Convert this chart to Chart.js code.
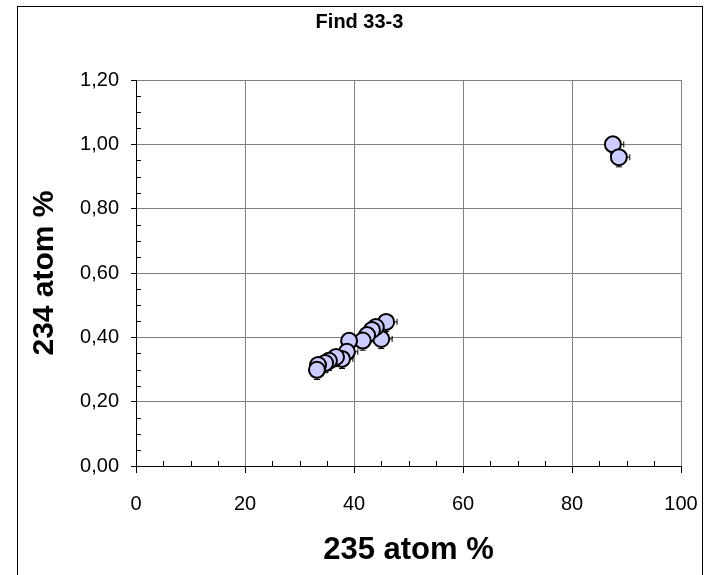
<!DOCTYPE html>
<html>
<head>
<meta charset="utf-8">
<script src="https://cdn.jsdelivr.net/npm/chart.js@4.4.0/dist/chart.umd.min.js"></script>
<style>
  body { margin: 0; background: #fff; }
  #frame { position: absolute; left: 17px; top: 6px; width: 684px; height: 620px; border: 1px solid #000; }
  #c { position: absolute; left: 0; top: 0; }
</style>
</head>
<body>
<div id="frame"></div>
<canvas id="c" width="713" height="575"></canvas>
<script>
// measured points (235 atom % vs 234 atom %)
const atom235 = [87.5, 88.6, 45.9, 45.0, 44.0, 43.3, 42.4, 41.6, 39.1, 38.7, 37.8, 36.7, 35.4, 34.7, 33.4, 33.2];
const atom234 = [1.00, 0.96, 0.448, 0.395, 0.432, 0.423, 0.407, 0.39, 0.389, 0.355, 0.333, 0.339, 0.327, 0.32, 0.314, 0.299];
const xErr = 2;
const yErr = 0.03;

const chartTitle = 'Find 33-3';
const xTitle = '235 atom %';
const yTitle = '234 atom %';

const points = atom235.map((x, i) => ({ x: x, y: atom234[i] }));

// small error bars (x plus, y minus) drawn under the markers
const errorBars = {
  id: 'errorBars',
  beforeDatasetsDraw(chart) {
    const { ctx, scales: { x, y } } = chart;
    ctx.save();
    ctx.strokeStyle = '#000';
    ctx.lineWidth = 1;
    points.forEach(p => {
      const px = x.getPixelForValue(p.x);
      const py = y.getPixelForValue(p.y);
      const ex = x.getPixelForValue(p.x + xErr);
      const ey = y.getPixelForValue(p.y - yErr);
      ctx.beginPath();
      ctx.moveTo(px, py); ctx.lineTo(ex, py);
      ctx.moveTo(ex, py - 3); ctx.lineTo(ex, py + 3);
      ctx.moveTo(px, py); ctx.lineTo(px, ey);
      ctx.moveTo(px - 3, ey); ctx.lineTo(px + 3, ey);
      ctx.stroke();
    });
    ctx.restore();
  }
};

// minor tick marks pointing into the plot
const minorTicks = {
  id: 'minorTicks',
  afterDraw(chart) {
    const { ctx, chartArea: a, scales: { x, y } } = chart;
    ctx.save();
    ctx.strokeStyle = '#000';
    ctx.lineWidth = 1;
    ctx.beginPath();
    for (let v = 5; v < 100; v += 5) {
      if (v % 20 === 0) continue;
      const px = Math.round(x.getPixelForValue(v)) + 0.5;
      ctx.moveTo(px, a.bottom); ctx.lineTo(px, a.bottom - 5);
    }
    for (let k = 1; k < 24; k++) {
      if (k % 4 === 0) continue;
      const py = Math.round(y.getPixelForValue(k * 0.05)) + 0.5;
      ctx.moveTo(a.left, py); ctx.lineTo(a.left + 5, py);
    }
    ctx.stroke();
    ctx.restore();
  }
};

Chart.defaults.font.family = 'Arial, "Liberation Sans", sans-serif';
Chart.defaults.color = '#000';

new Chart(document.getElementById('c'), {
  type: 'scatter',
  data: {
    datasets: [{
      data: points,
      pointRadius: 8,
      pointHoverRadius: 8,
      pointBackgroundColor: '#ccccff',
      pointBorderColor: '#000',
      pointBorderWidth: 2
    }]
  },
  options: {
    responsive: false,
    animation: false,
    devicePixelRatio: 1,
    layout: { padding: { left: 38, right: 32, top: 0, bottom: 0 } },
    plugins: {
      legend: { display: false },
      tooltip: { enabled: false },
      title: {
        display: true,
        text: chartTitle,
        font: { size: 20, weight: 'bold' },
        padding: { top: 10, bottom: 46 }
      }
    },
    scales: {
      x: {
        type: 'linear',
        min: 0,
        max: 100,
        ticks: { stepSize: 20, font: { size: 20 }, padding: 19, maxRotation: 0 },
        grid: { color: '#808080', tickColor: '#000', tickLength: 7 },
        border: { color: '#000' },
        title: { display: true, text: xTitle, font: { size: 31, weight: 'bold' }, padding: { top: 0, bottom: 6 } },
        afterFit(scale) {
          scale.height = 109;
          scale.paddingLeft = 0;
          scale.paddingRight = 0;
        }
      },
      y: {
        type: 'linear',
        min: 0,
        max: 1.2,
        ticks: {
          stepSize: 0.2,
          font: { size: 20 },
          padding: 12,
          callback: v => v.toFixed(2).replace('.', ',')
        },
        grid: { color: '#808080', tickColor: '#000', tickLength: 5 },
        border: { color: '#000' },
        title: { display: true, text: yTitle, font: { size: 30, weight: 'bold' }, padding: { top: -11, bottom: 0 } },
        afterFit(scale) { scale.width = 98; }
      }
    }
  },
  plugins: [errorBars, minorTicks]
});
</script>
</body>
</html>
